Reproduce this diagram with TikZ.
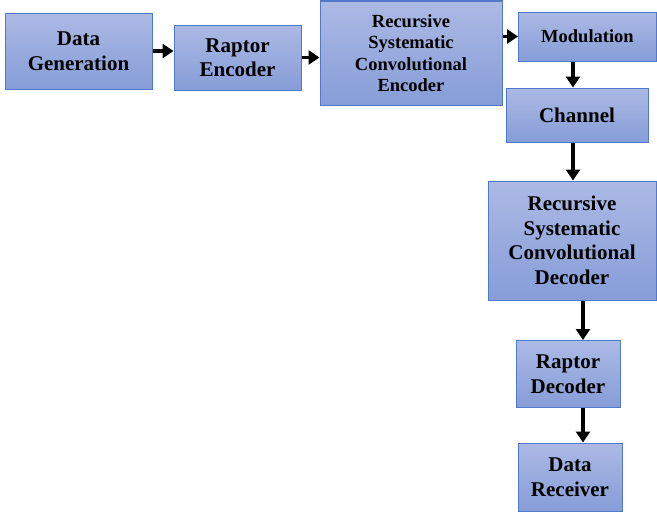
\documentclass[tikz,border=0pt]{standalone}
\usepackage{fontspec}
\setmainfont{Liberation Serif}
\usetikzlibrary{arrows.meta}

\definecolor{boxtop}{RGB}{172,185,228}
\definecolor{boxbot}{RGB}{134,157,216}
\definecolor{boxline}{RGB}{80,120,204}

\tikzset{
  block/.style={draw=boxline, line width=1pt, top color=boxtop, bottom color=boxbot,
    align=center, inner sep=0pt, font=\fontsize{21}{24.5}\selectfont\bfseries},
  smallblock/.style={block, font=\fontsize{18.5}{21.5}\selectfont\bfseries},
  flow/.style={-{Triangle[length=11pt,width=14pt]}, line width=3.2pt, black}
}

\begin{document}
\begin{tikzpicture}[x=1pt,y=-1pt]
\useasboundingbox (0,0) rectangle (657,514);

% Transmitter chain
\node[block, minimum width=147pt, minimum height=76pt] (gen) at (78.5,51) {Data\\Generation};
\node[block, minimum width=127pt, minimum height=65pt] (renc) at (237.5,57.5) {Raptor\\Encoder};
\node[smallblock, minimum width=182pt, minimum height=104pt] (rsce) at (411,53) {Recursive\\Systematic\\Convolutional\\Encoder};
\node[smallblock, minimum width=138pt, minimum height=49pt] (mod) at (587.5,36.5) {Modulation};

% Channel
\node[block, minimum width=142pt, minimum height=54pt] (chan) at (577,115) {Channel};

% Receiver chain
\node[block, minimum width=168pt, minimum height=119pt] (rscd) at (572,240.5) {Recursive\\Systematic\\Convolutional\\Decoder};
\node[block, minimum width=104pt, minimum height=67pt] (rdec) at (568,374) {Raptor\\Decoder};
\node[block, minimum width=104pt, minimum height=68pt] (recv) at (570,477) {Data\\Receiver};

% Arrows
\draw[flow] (gen.east) -- (gen.east -| renc.west);
\draw[flow] (renc.east) -- (renc.east -| rsce.west);
\draw[flow] (rsce.east |- mod.west) -- (mod.west);
\draw[flow] ([xshift=-4pt]chan.north |- mod.south) -- ([xshift=-4pt]chan.north);
\draw[flow] ([xshift=-4pt]chan.south) -- ([xshift=-4pt]chan.south |- rscd.north);
\draw[flow] ([xshift=15pt]rdec.north |- rscd.south) -- ([xshift=15pt]rdec.north);
\draw[flow] ([xshift=15pt]rdec.south) -- ([xshift=15pt]rdec.south |- recv.north);

\end{tikzpicture}
\end{document}
